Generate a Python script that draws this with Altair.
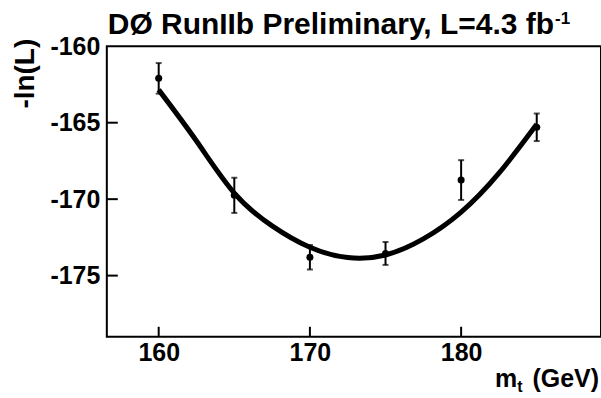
import altair as alt
import pandas as pd

# measured points
mt = [160, 165, 170, 175, 180, 185]
nll = [-162.1, -169.75, -173.8, -173.55, -168.75, -165.3]
err = [1.0, 1.15, 0.8, 0.75, 1.3, 0.9]

# fitted curve
fit_mt = [160, 162.5, 165, 167.5, 170, 172.5, 175, 177.5, 180, 182.5, 185]
fit_nll = [-162.85, -166.2, -169.6, -171.75, -173.15, -173.82, -173.65, -172.6, -170.85, -168.3, -165.1]

x_ticks = [160, 170, 180]
y_ticks = [-175, -170, -165]

FONT = "Liberation Sans"
W, H = 495, 291

pts = pd.DataFrame({"mt": mt, "nll": nll, "lo": [v - e for v, e in zip(nll, err)],
                    "hi": [v + e for v, e in zip(nll, err)]})
fit = pd.DataFrame({"mt": fit_mt, "nll": fit_nll})
xt = pd.DataFrame({"v": x_ticks})
yt = pd.DataFrame({"v": y_ticks})

xs = alt.Scale(domain=[156.57, 189.25], nice=False, zero=False)
ys = alt.Scale(domain=[-179, -160], nice=False, zero=False)

xax = alt.Axis(values=x_ticks, ticks=False, domain=False, grid=False, title=None,
               labelFont=FONT, labelFontWeight="bold", labelFontSize=25, labelColor="black",
               labelPadding=4)
yax = alt.Axis(values=[-175, -170, -165, -160], ticks=False, domain=False, grid=False,
               labelExpr="'' + datum.value",
               title="-ln(L)", titleFont=FONT, titleFontWeight="bold", titleFontSize=28,
               titleColor="black", titleAnchor="end", titleAlign="right", titleAngle=-90,
               titleX=-73, titleY=-8, titleBaseline="alphabetic",
               labelFont=FONT, labelFontWeight="bold", labelFontSize=25, labelColor="black",
               labelPadding=7)

base = alt.Chart(pts)

curve = alt.Chart(fit).mark_line(color="black", strokeWidth=5, interpolate="natural").encode(
    x=alt.X("mt:Q", scale=xs, axis=xax),
    y=alt.Y("nll:Q", scale=ys, axis=yax),
)

bars = base.mark_rule(color="black", strokeWidth=2).encode(
    x=alt.X("mt:Q", scale=xs), y=alt.Y("lo:Q", scale=ys), y2="hi:Q")
cap_lo = base.mark_tick(color="black", orient="horizontal", size=6, thickness=2).encode(
    x=alt.X("mt:Q", scale=xs), y=alt.Y("lo:Q", scale=ys))
cap_hi = base.mark_tick(color="black", orient="horizontal", size=6, thickness=2).encode(
    x=alt.X("mt:Q", scale=xs), y=alt.Y("hi:Q", scale=ys))
dots = base.mark_circle(color="black", opacity=1, size=50).encode(
    x=alt.X("mt:Q", scale=xs), y=alt.Y("nll:Q", scale=ys))

xtick = alt.Chart(xt).mark_rule(color="black", strokeWidth=2).encode(
    x=alt.X("v:Q", scale=xs), y=alt.value(H - 10), y2=alt.value(H))
ytick = alt.Chart(yt).mark_rule(color="black", strokeWidth=2).encode(
    y=alt.Y("v:Q", scale=ys), x=alt.value(0), x2=alt.value(11))

one = pd.DataFrame({"k": [0]})
title = alt.Chart(one).mark_text(text="DØ RunIIb Preliminary, L=4.3 fb", font=FONT,
                                 fontWeight="bold", fontSize=30, align="left",
                                 baseline="alphabetic", color="black").encode(
    x=alt.value(1), y=alt.value(-12))
sup = alt.Chart(one).mark_text(text="-1", font=FONT, fontWeight="bold", fontSize=17,
                               align="left", baseline="top", color="black").encode(
    x=alt.value(449), y=alt.value(-35))
xlab_m = alt.Chart(one).mark_text(text="m", font=FONT, fontWeight="bold", fontSize=25,
                                  align="right", baseline="alphabetic", color="black").encode(
    x=alt.value(411), y=alt.value(341))
xlab_t = alt.Chart(one).mark_text(text="t", font=FONT, fontWeight="bold", fontSize=16,
                                  align="left", baseline="alphabetic", color="black").encode(
    x=alt.value(411), y=alt.value(346))
xlab_g = alt.Chart(one).mark_text(text="(GeV)", font=FONT, fontWeight="bold", fontSize=25,
                                  align="right", baseline="alphabetic", color="black").encode(
    x=alt.value(493), y=alt.value(341))

chart = alt.layer(curve, bars, cap_lo, cap_hi, dots, xtick, ytick,
                  title, sup, xlab_m, xlab_t, xlab_g).properties(
    width=W, height=H,
    padding={"left": 107, "top": 46, "right": 0, "bottom": 61},
    autosize=alt.AutoSizeParams(type="none"),
    background="white",
).configure_view(stroke="black", strokeWidth=2)

chart.save("out.html", embed_options={"renderer": "svg", "actions": False})
